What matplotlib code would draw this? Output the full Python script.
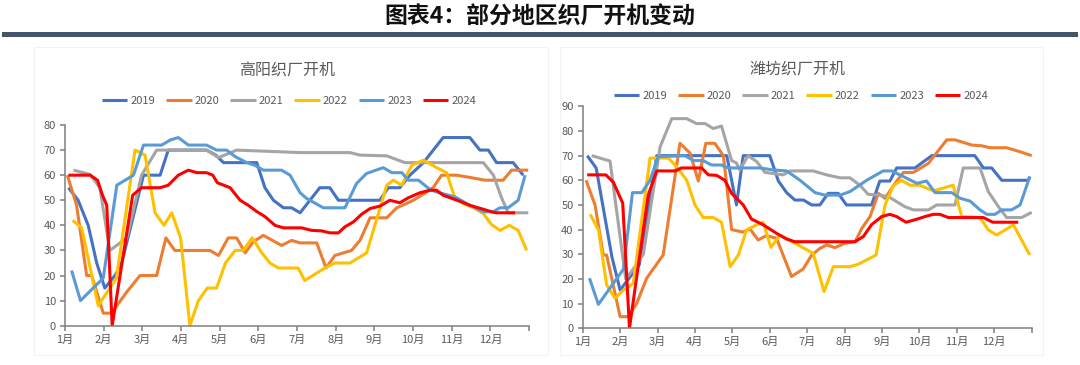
import matplotlib
matplotlib.use("Agg")
import matplotlib.pyplot as plt
from matplotlib.patches import Rectangle

plt.rcParams['font.family'] = ['Noto Sans CJK SC', 'DejaVu Sans']

# ---------------- data ----------------
years = ['2019', '2020', '2021', '2022', '2023', '2024']
colors = ['#4472C4', '#ED7D31', '#A5A5A5', '#FFC000', '#5B9BD5', '#FF0000']
month_labels = ['1月', '2月', '3月', '4月', '5月', '6月', '7月', '8月', '9月', '10月', '11月', '12月']

# x values are positions in months (0 = start of January)
# ---- 高阳 ----
gy_2019_x = [0.09, 0.34, 0.6, 0.82, 1.03, 1.29, 1.45, 2.03, 2.46, 2.67, 3.66, 3.9, 4.1, 4.96, 5.17, 5.39, 5.65,
             5.86, 6.08, 6.59, 6.85, 7.07, 8.14, 8.36, 8.66, 8.92, 9.27, 9.78, 10.47, 10.73, 10.95, 11.16, 11.59, 11.85]
gy_2019_y = [55, 50, 40, 25, 15, 20, 24, 60, 60, 70, 70, 68, 65, 65, 55, 50, 47,
             47, 45, 55, 55, 50, 50, 55, 55, 60, 65, 75, 75, 70, 70, 65, 65, 60]
gy_2020_x = [0.06, 0.3, 0.56, 0.69, 0.99, 1.2, 1.6, 1.94, 2.37, 2.61, 2.84, 3.75, 3.97, 4.22, 4.44, 4.66, 4.87,
             5.13, 5.6, 5.86, 6.08, 6.51, 6.75, 6.98, 7.41, 7.63, 7.89, 8.32, 8.58, 8.8, 9.01, 9.27, 9.52, 9.74,
             10.13, 10.51, 10.86, 11.33, 11.55, 11.98]
gy_2020_y = [60, 48, 20, 20, 5, 5, 13.5, 20, 20, 35, 30, 30, 28, 35, 35, 29, 33.5,
             36, 32, 34, 33, 33, 23, 28, 30, 34, 43, 43, 47, 48.5, 50, 52.5, 55, 60,
             60, 59, 58, 58, 62, 62]
gy_2021_x = [0.22, 0.65, 0.9, 1.16, 1.6, 1.98, 2.37, 3.66, 3.97, 4.44, 6.08, 7.37, 7.63, 8.32, 8.79, 10.82,
             11.08, 11.29, 11.46, 11.98]
gy_2021_y = [62, 60.3, 55, 30, 35, 60, 70, 70, 67, 70, 69, 69, 68, 67.7, 65, 65,
             60, 51, 45, 45]
gy_2022_x = [0.2, 0.43, 0.86, 1.33, 1.81, 2.07, 2.33, 2.56, 2.76, 2.99, 3.23, 3.45, 3.68, 3.92, 4.15, 4.4, 4.61,
             4.84, 5.09, 5.3, 5.52, 6.03, 6.2, 6.72, 6.98, 7.37, 7.8, 8.15, 8.32, 8.49, 8.71, 8.97, 9.27, 9.61,
             9.87, 10.08, 10.3, 10.6, 10.82, 11.03, 11.25, 11.49, 11.72, 11.94]
gy_2022_y = [42, 39, 8, 19, 70, 68, 45, 40, 45, 35, 0, 10, 15, 15, 25, 30, 30,
             35, 29, 25, 23, 23, 18, 23, 25, 25, 29, 47, 56, 58, 56, 64, 66, 63,
             61, 51, 48.7, 46.7, 44.7, 40.3, 38, 40, 38, 30]
gy_2023_x = [0.17, 0.4, 0.99, 1.34, 1.77, 2.03, 2.5, 2.72, 2.93, 3.19, 3.66, 3.92, 4.18, 4.4, 4.7, 4.9, 5.13,
             5.6, 5.82, 6.08, 6.25, 6.68, 7.24, 7.54, 7.8, 8.23, 8.45, 8.71, 8.88, 9.14, 9.44, 9.61, 10.09,
             10.47, 10.82, 11.07, 11.25, 11.46, 11.72, 11.9]
gy_2023_y = [22, 10, 19, 56, 60, 72, 72, 74, 75, 72, 72, 70, 70, 67.4, 65, 64, 62,
             62, 60, 53, 50.7, 47, 47, 56.7, 60.7, 63, 61, 61, 58, 58, 54.3, 53.3, 51.3,
             48, 45.4, 45.4, 47, 47, 50, 60]
gy_2024_x = [0.09, 0.65, 0.84, 0.97, 1.08, 1.22, 1.75, 1.98, 2.46, 2.67, 2.93, 3.19, 3.41, 3.66, 3.82, 3.94,
             4.27, 4.53, 4.74, 4.96, 5.17, 5.43, 5.65, 6.12, 6.38, 6.64, 6.85, 7.07, 7.24, 7.46, 7.67, 7.89,
             8.15, 8.4, 8.66, 8.88, 9.18, 9.44, 9.61, 9.78, 10.21, 10.47, 10.82, 11.08, 11.16, 11.64]
gy_2024_y = [60, 60, 58, 52, 48, 0, 52, 55, 55, 56, 60, 62, 61, 61, 60, 57,
             55, 50, 48, 45.5, 43.5, 40, 39, 39, 38, 37.8, 37, 37, 39.4, 41.4, 44.4, 46.7,
             47.7, 50, 49, 51, 53, 54, 54, 52, 49.6, 48, 46.4, 45.2, 45, 45]

# ---- 潍坊 ----
wf_2019_x = [0.12, 0.36, 0.78, 1.0, 1.51, 1.98, 3.85, 4.11, 4.29, 5.0, 5.23, 5.45, 5.67, 5.9, 6.12, 6.34, 6.56,
             6.83, 7.05, 7.72, 7.94, 8.21, 8.39, 8.88, 9.33, 10.48, 10.71, 10.93, 11.2, 11.91, 11.95]
wf_2019_y = [70, 65, 29, 15.5, 25.7, 70, 70, 50, 70, 70, 59.7, 55, 52, 52, 50, 50, 54.7,
             54.7, 50, 50, 59.7, 59.7, 65, 65, 70, 70, 65, 65, 60, 60, 61.5]
wf_2020_x = [0.09, 0.33, 0.55, 0.64, 1.0, 1.22, 1.44, 1.71, 2.15, 2.6, 2.87, 3.09, 3.29, 3.53, 3.76, 3.98, 4.29,
             4.47, 4.69, 4.91, 5.18, 5.58, 5.89, 6.12, 6.34, 6.52, 6.74, 7.01, 7.28, 7.46, 7.68, 7.9, 8.08,
             8.35, 8.57, 8.84, 9.24, 9.73, 9.95, 10.4, 10.66, 10.89, 11.33, 11.6, 12.0]
wf_2020_y = [60, 50, 29.7, 29.7, 4.7, 4.7, 10, 20.3, 29.7, 75, 71, 59.7, 75, 75, 70, 40, 39,
             40.3, 35.8, 37.6, 36.5, 21, 24, 29.7, 32.4, 33.8, 32.7, 34.5, 35.1, 40.5, 45.3, 54.7, 52.7,
             58.8, 63.2, 63.2, 66.9, 76.4, 76.4, 74.3, 74, 73.2, 73.2, 72, 70]
wf_2021_x = [0.24, 0.73, 1.15, 1.35, 1.62, 2.07, 2.38, 2.78, 3.04, 3.27, 3.49, 3.71, 3.98, 4.11, 4.2, 4.42,
             4.65, 4.87, 5.36, 5.54, 6.16, 6.52, 6.88, 7.14, 7.41, 7.63, 7.94, 8.17, 8.61, 8.84, 9.24, 9.46,
             9.95, 10.17, 10.62, 10.84, 11.11, 11.33, 11.73, 12.0]
wf_2021_y = [70, 67.8, 20, 24, 30, 73.6, 85, 85, 83, 83, 81, 82, 68, 67, 64.2, 70,
             67.6, 63.2, 62.2, 63.8, 63.8, 62.2, 61, 61, 58, 54.3, 54, 53.4, 49.3, 48, 48, 50,
             50, 65, 65, 55.4, 49.3, 44.9, 44.9, 47]
wf_2022_x = [0.2, 0.42, 0.64, 0.86, 1.09, 1.35, 1.8, 2.29, 2.51, 2.78, 3.0, 3.22, 3.49, 3.71, 3.94, 4.16,
             4.38, 4.6, 4.82, 5.03, 5.27, 6.16, 6.45, 6.7, 7.14, 7.37, 7.84, 8.08, 8.3, 8.52, 8.75, 9.01,
             9.37, 9.9, 10.13, 10.62, 10.84, 11.06, 11.51, 11.95]
wf_2022_y = [46.2, 39.9, 17.6, 12.2, 15.5, 18.2, 69, 69, 65.5, 60, 50, 44.9, 44.9, 43, 25, 29.7,
             39.9, 41.6, 43, 32.8, 37.8, 30.4, 14.9, 25, 25, 26, 29.7, 50, 57.8, 60, 58, 58,
             55.7, 58, 45.3, 44.9, 39.9, 37.8, 41.9, 29.7]
wf_2023_x = [0.18, 0.42, 1.09, 1.33, 1.58, 1.8, 2.02, 2.73, 2.96, 3.22, 3.44, 3.71, 3.89, 4.74, 5.09, 5.45,
             5.81, 6.21, 6.47, 6.88, 7.14, 7.59, 8.03, 8.26, 8.57, 8.93, 9.19, 9.42, 9.86, 10.09, 10.35,
             10.62, 10.8, 11.02, 11.2, 11.46, 11.69, 11.95]
wf_2023_y = [20.3, 9.7, 24, 55, 55, 60, 69.6, 70, 68, 68, 66.2, 66.2, 65, 65, 64.2, 63.8,
             60, 55, 54, 54, 55.4, 60, 63.8, 63.8, 61.5, 58.8, 59.7, 55, 55, 52.7, 51.6,
             48, 46.2, 46.2, 48, 48, 50, 61.5]
wf_2024_x = [0.12, 0.62, 0.82, 1.07, 1.25, 1.75, 1.98, 2.47, 2.64, 3.18, 3.36, 3.58, 3.8, 3.98, 4.29, 4.51,
             4.82, 5.18, 5.45, 5.67, 7.28, 7.5, 7.72, 7.99, 8.21, 8.39, 8.64, 8.88, 9.15, 9.37, 9.55, 9.77,
             10.71, 10.96, 11.64]
wf_2024_y = [62.2, 62.2, 59.2, 50.7, 0, 54, 63.8, 63.8, 65, 65, 62.2, 62, 60, 54.7, 50, 44.3,
             42, 38.5, 36.2, 35.1, 35.1, 37.2, 42, 45.3, 46.2, 45.3, 43, 44, 45.3, 46.2, 46.2, 44.9,
             44.9, 43, 43]

gy_series = [(gy_2019_x, gy_2019_y), (gy_2020_x, gy_2020_y), (gy_2021_x, gy_2021_y),
             (gy_2022_x, gy_2022_y), (gy_2023_x, gy_2023_y), (gy_2024_x, gy_2024_y)]
wf_series = [(wf_2019_x, wf_2019_y), (wf_2020_x, wf_2020_y), (wf_2021_x, wf_2021_y),
             (wf_2022_x, wf_2022_y), (wf_2023_x, wf_2023_y), (wf_2024_x, wf_2024_y)]

# ---------------- figure ----------------
W, H = 1080, 365
fig = plt.figure(figsize=(W / 100, H / 100), dpi=100)
fig.patch.set_facecolor('white')

def fx(px):
    return px / W

def fy(py):
    return 1 - py / H

# main title and bar
fig.text(0.5, fy(17), '图表4：部分地区织厂开机变动', ha='center', va='center',
         fontsize=16.5, fontweight='bold', color='#111111')
fig.patches.append(Rectangle((fx(2), fy(37)), fx(1076), 5.5 / H, transform=fig.transFigure,
                             facecolor='#44546A', edgecolor='none'))

# faint chart-area borders
for (x0, x1) in [(34, 548), (560, 1043)]:
    fig.patches.append(Rectangle((fx(x0), fy(355)), fx(x1 - x0), (355 - 47) / H,
                                 transform=fig.transFigure, facecolor='none',
                                 edgecolor='#F3F3F3', linewidth=0.8))

axis_col = '#7F7F7F'
text_col = '#595959'


def make_panel(left_px, right_px, bottom_py, top_py, ymax, series, title, title_py, leg_cx, leg_py):
    ax = fig.add_axes([fx(left_px), fy(bottom_py), fx(right_px - left_px), (bottom_py - top_py) / H])
    for (xs, ys), c, lab in zip(series, colors, years):
        ax.plot(xs, ys, color=c, lw=2.2, label=lab, solid_joinstyle='round', solid_capstyle='butt')
    ax.set_xlim(0, 12)
    ax.set_ylim(0, ymax)
    ax.set_xticks(range(13))
    ax.set_xticklabels(month_labels + [''])
    ax.set_yticks(range(0, ymax + 1, 10))
    for s in ['top', 'right']:
        ax.spines[s].set_visible(False)
    for s in ['left', 'bottom']:
        ax.spines[s].set_color(axis_col)
        ax.spines[s].set_linewidth(1.1)
    ax.tick_params(axis='both', direction='out', length=3.5, width=1.1, color=axis_col,
                   labelcolor=text_col, labelsize=8, pad=3)
    ax.set_facecolor('none')
    fig.text(fx((left_px + right_px) / 2 - 10), fy(title_py), title, ha='center', va='center',
             fontsize=11.5, color=text_col)
    fig.legend(*ax.get_legend_handles_labels(), loc='center', bbox_to_anchor=(fx(leg_cx), fy(leg_py)),
               ncol=6, frameon=False, fontsize=8, handlelength=2.3, handletextpad=0.25,
               columnspacing=1.0, labelcolor=text_col)
    return ax


make_panel(65, 529, 325.7, 125, 80, gy_series, '高阳织厂开机', 71.5, 289, 101)
make_panel(582.7, 1031.7, 328.3, 106.3, 90, wf_series, '潍坊织厂开机', 69.5, 801, 96)

fig.savefig('out.png', dpi=100, facecolor='white')
